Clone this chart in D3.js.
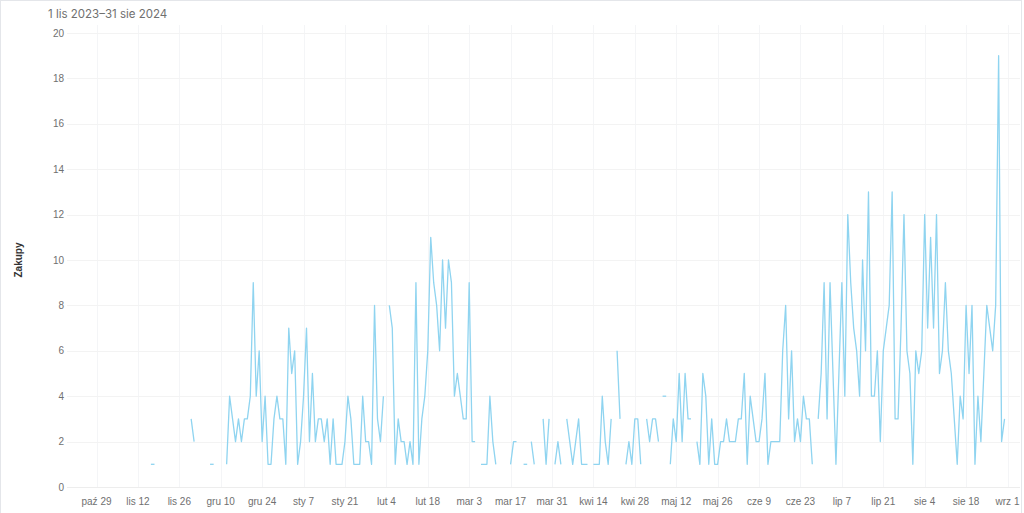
<!DOCTYPE html>
<html>
<head>
<meta charset="utf-8">
<script src="https://cdn.jsdelivr.net/npm/d3@7"></script>
<style>
  html, body { margin: 0; padding: 0; background: #fff; }
  svg { display: block; }
</style>
</head>
<body>
<svg id="chart" width="1024" height="513"></svg>
<script>
// ---- data ----
const title = "1 lis 2023–31 sie 2024";
const yTitle = "Zakupy";
const startDate = "2023-11-01";
const purchases = [
  null,null,null,null,null,null,null,null,null,null,
  null,null,null,null,null,null,1,null,null,null,
  null,null,null,null,null,null,null,null,null,3,
  2,null,null,null,null,null,1,null,null,null,
  null,1,4,3,2,3,2,3,3,4,
  9,4,6,2,4,1,1,3,4,3,
  3,1,7,5,6,1,2,4,7,2,
  5,2,3,3,2,3,1,3,1,1,
  1,2,4,3,1,1,1,4,2,2,
  1,8,3,2,4,null,8,7,1,3,
  2,2,1,2,1,9,1,3,4,6,
  11,9,8,6,10,7,10,9,4,5,
  4,3,3,9,2,2,null,1,1,1,
  4,2,1,null,null,null,null,1,2,2,
  null,null,1,null,2,1,null,null,3,1,
  3,null,1,2,1,null,3,2,1,2,
  3,1,1,1,null,1,1,1,4,2,
  1,3,null,6,3,null,1,2,1,3,
  3,1,null,3,2,3,3,2,null,4,
  null,1,3,2,5,2,5,3,3,null,
  2,1,5,4,1,3,1,1,2,2,
  3,2,2,2,3,3,5,1,4,3,
  2,2,3,5,1,2,2,2,2,6,
  8,3,6,2,3,2,4,3,3,1,
  null,3,5,9,3,9,5,1,5,9,
  4,12,9,7,6,4,10,6,13,4,
  4,6,2,6,7,8,13,3,3,7,
  12,6,5,1,6,5,6,12,7,11,
  7,12,5,6,9,6,5,3,1,4,
  3,8,5,8,1,4,2,5,8,7,
  6,8,19,2,3
];
const tickDates = ["2023-10-29","2023-11-12","2023-11-26","2023-12-10","2023-12-24",
  "2024-01-07","2024-01-21","2024-02-04","2024-02-18","2024-03-03","2024-03-17",
  "2024-03-31","2024-04-14","2024-04-28","2024-05-12","2024-05-26","2024-06-09",
  "2024-06-23","2024-07-07","2024-07-21","2024-08-04","2024-08-18","2024-09-01"];
const tickLabels = ["paź 29","lis 12","lis 26","gru 10","gru 24","sty 7","sty 21",
  "lut 4","lut 18","mar 3","mar 17","mar 31","kwi 14","kwi 28","maj 12","maj 26",
  "cze 9","cze 23","lip 7","lip 21","sie 4","sie 18","wrz 1"];
const yTicks = [0,2,4,6,8,10,12,14,16,18,20];

// ---- build ----
const parse = d3.utcParse("%Y-%m-%d");
const start = parse(startDate);
const data = purchases.map((v, i) => ({ date: d3.utcDay.offset(start, i), value: v }));
const ticks = tickDates.map((d, i) => ({ date: parse(d), label: tickLabels[i] }));

const svg = d3.select("#chart");
const plotLeft = 67, plotRight = 1020, plotTop = 33, plotBottom = 487;

const x = d3.scaleUtc()
  .domain([parse("2023-10-29"), parse("2024-09-01")])
  .range([96.5, 1007.5]);
const y = d3.scaleLinear().domain([0, 20]).range([plotBottom, plotTop]);

// card border
svg.append("rect")
  .attr("x", 0.5).attr("y", 0.5).attr("width", 1021).attr("height", 530)
  .attr("fill", "#fff").attr("stroke", "#e4e6ea");

// title
svg.append("text")
  .attr("x", 48).attr("y", 18)
  .attr("font-family", "Inter, 'Noto Sans', sans-serif")
  .attr("font-size", 11.5).attr("fill", "#707070")
  .text(title);

// vertical gridlines
svg.append("g").selectAll("line").data(ticks).join("line")
  .attr("x1", d => Math.round(x(d.date)) + 0.5).attr("x2", d => Math.round(x(d.date)) + 0.5)
  .attr("y1", plotTop - 8).attr("y2", plotBottom)
  .attr("stroke", "#f4f5f7").attr("stroke-width", 1);

// horizontal gridlines
svg.append("g").selectAll("line").data(yTicks).join("line")
  .attr("x1", plotLeft).attr("x2", plotRight)
  .attr("y1", d => Math.round(y(d)) + 0.5).attr("y2", d => Math.round(y(d)) + 0.5)
  .attr("stroke", d => d === 0 ? "#ededed" : "#f3f3f3").attr("stroke-width", 1);

// y axis labels
svg.append("g").selectAll("text").data(yTicks).join("text")
  .attr("x", 64).attr("y", d => y(d) + 3.5)
  .attr("text-anchor", "end")
  .attr("font-family", "'Liberation Sans', Arial, sans-serif")
  .attr("font-size", 10).attr("fill", "#707070")
  .text(d => d);

// y title
svg.append("text")
  .attr("transform", `translate(22,${(plotTop + plotBottom) / 2}) rotate(-90)`)
  .attr("text-anchor", "middle")
  .attr("font-family", "'Liberation Sans', Arial, sans-serif")
  .attr("font-size", 10).attr("font-weight", "bold").attr("fill", "#333")
  .text(yTitle);

// x axis labels
svg.append("g").selectAll("text").data(ticks).join("text")
  .attr("x", d => x(d.date)).attr("y", 505)
  .attr("text-anchor", "middle")
  .attr("font-family", "'Liberation Sans', Arial, sans-serif")
  .attr("font-size", 10).attr("fill", "#707070")
  .text(d => d.label);

// line
const lineColor = "#8fd4f0";
const line = d3.line()
  .defined(d => d.value !== null)
  .x(d => x(d.date)).y(d => y(d.value));
svg.append("path")
  .datum(data)
  .attr("d", line)
  .attr("fill", "none")
  .attr("stroke", lineColor)
  .attr("stroke-width", 1.3)
  .attr("stroke-linejoin", "round");

// isolated points (no neighbours) shown as short dashes
const isolated = data.filter((d, i) => d.value !== null &&
  (i === 0 || data[i - 1].value === null) &&
  (i === data.length - 1 || data[i + 1].value === null));
svg.append("g").selectAll("line").data(isolated).join("line")
  .attr("x1", d => x(d.date) - 1.8).attr("x2", d => x(d.date) + 1.8)
  .attr("y1", d => y(d.value)).attr("y2", d => y(d.value))
  .attr("stroke", lineColor).attr("stroke-width", 1.3);
</script>
</body>
</html>
